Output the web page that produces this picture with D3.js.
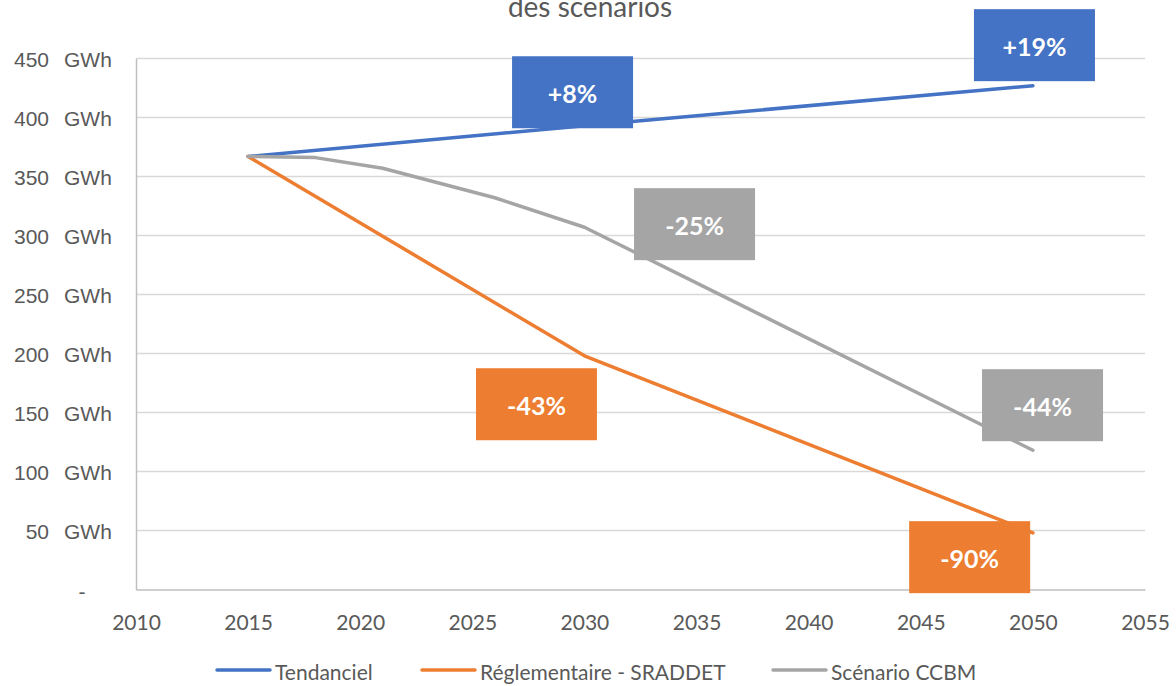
<!DOCTYPE html>
<html>
<head>
<meta charset="utf-8">
<script src="https://cdn.jsdelivr.net/npm/d3@7"></script>
<style>
  html, body { margin: 0; padding: 0; background: #fff; }
  svg { display: block; font-family: Lato, "Open Sans", sans-serif; }
</style>
</head>
<body>
<svg id="chart" width="1176" height="686"></svg>
<script>
// ---- data ----
const titleText = "des scenarios";
const seriesNames = ["Tendanciel", "Réglementaire - SRADDET", "Scénario CCBM"];
const tendancielYears = [2015, 2030, 2050];
const tendancielValues = [367, 393, 427];
const reglementaireYears = [2015, 2030, 2050];
const reglementaireValues = [367, 198, 48];
const ccbmYears = [2015, 2018, 2021, 2026, 2030, 2050];
const ccbmValues = [367, 366, 357, 332, 307, 118];
const xTicks = [2010, 2015, 2020, 2025, 2030, 2035, 2040, 2045, 2050, 2055];
const yTicks = [0, 50, 100, 150, 200, 250, 300, 350, 400, 450];
const yUnit = "GWh";
// annotation boxes: text, series index, anchor (year, GWh)
const labelTexts = ["+8%", "+19%", "-43%", "-90%", "-25%", "-44%"];
const labelSeries = [0, 0, 1, 1, 2, 2];
const labelYears = [2029.47, 2050.07, 2027.86, 2047.18, 2034.91, 2050.43];
const labelValues = [421.4, 461.3, 157.0, 27.4, 309.6, 156.2];

// ---- style ----
const colors = ["#4472C4", "#ED7D31", "#A5A5A5"];
const textColor = "#595959";
const W = 1176, H = 686;
const plot = { left: 136, right: 1145, top: 58.5, bottom: 589.5 };

const svg = d3.select("#chart");
const x = d3.scaleLinear().domain([2010, 2055]).range([plot.left, plot.right]);
const y = d3.scaleLinear().domain([0, 450]).range([plot.bottom, plot.top]);

// title (first line lies above the visible area)
svg.append("text")
  .attr("x", 590).attr("y", 17)
  .attr("text-anchor", "middle")
  .attr("fill", textColor)
  .attr("font-size", 28)
  .text(titleText);

// gridlines
svg.append("g")
  .selectAll("line")
  .data(yTicks.filter(d => d > 0))
  .join("line")
  .attr("x1", plot.left).attr("x2", plot.right)
  .attr("y1", d => y(d)).attr("y2", d => y(d))
  .attr("stroke", "#d9d9d9").attr("stroke-width", 1.5);

// y axis
const yAxis = svg.append("g")
  .attr("transform", `translate(${plot.left},0)`)
  .call(d3.axisLeft(y).tickValues(yTicks).tickSize(0).tickFormat(""));
yAxis.select(".domain").attr("stroke", "#bfbfbf").attr("stroke-width", 1.5);
yAxis.selectAll(".tick text").remove();
yAxis.selectAll(".tick").each(function(d) {
  const g = d3.select(this);
  if (d === 0) {
    g.append("text").attr("x", 82 - plot.left).attr("y", 1)
      .attr("text-anchor", "middle").attr("dominant-baseline", "central")
      .attr("fill", textColor).attr("font-size", 21).text("-");
  } else {
    g.append("text").attr("x", 49 - plot.left).attr("y", 0)
      .attr("text-anchor", "end").attr("dominant-baseline", "central")
      .attr("fill", textColor).attr("font-size", 21).text(d);
    g.append("text").attr("x", 64 - plot.left).attr("y", 0)
      .attr("text-anchor", "start").attr("dominant-baseline", "central")
      .attr("fill", textColor).attr("font-size", 21).text(yUnit);
  }
});

// x axis
const xAxis = svg.append("g")
  .attr("transform", `translate(0,${plot.bottom})`)
  .call(d3.axisBottom(x).tickValues(xTicks).tickSize(0).tickFormat(d => String(d)));
xAxis.select(".domain").attr("stroke", "#bfbfbf").attr("stroke-width", 1.5);
xAxis.selectAll(".tick text")
  .attr("y", 32).attr("dy", null)
  .attr("dominant-baseline", "central")
  .attr("fill", textColor).attr("font-size", 21).attr("font-family", "Lato, sans-serif");

// lines
const series = [
  { years: tendancielYears, values: tendancielValues },
  { years: reglementaireYears, values: reglementaireValues },
  { years: ccbmYears, values: ccbmValues }
];
const line = d3.line().x(d => x(d[0])).y(d => y(d[1]));
// draw order: gray under orange under blue? Excel draws in series order
series.forEach((s, i) => {
  svg.append("path")
    .datum(s.years.map((yr, k) => [yr, s.values[k]]))
    .attr("d", line)
    .attr("fill", "none")
    .attr("stroke", colors[i])
    .attr("stroke-width", 3.5)
    .attr("stroke-linejoin", "round")
    .attr("stroke-linecap", "round");
});

// label boxes
const boxW = 121, boxH = 72;
const lab = svg.append("g").selectAll("g")
  .data(labelTexts.map((t, i) => ({ t, s: labelSeries[i], yr: labelYears[i], v: labelValues[i] })))
  .join("g")
  .attr("transform", d => `translate(${x(d.yr)},${y(d.v)})`);
lab.append("rect")
  .attr("x", -boxW / 2).attr("y", -boxH / 2)
  .attr("width", boxW).attr("height", boxH)
  .attr("fill", d => colors[d.s]);
lab.append("text")
  .attr("text-anchor", "middle").attr("dominant-baseline", "central")
  .attr("y", 1)
  .attr("fill", "#fff").attr("font-weight", "bold").attr("font-size", 25)
  .text(d => d.t);

// legend
const legendY = 670;
const legendItems = [
  { lx: 217, tx: 275 },
  { lx: 422, tx: 480 },
  { lx: 773, tx: 831 }
];
const lg = svg.append("g").selectAll("g").data(seriesNames).join("g");
lg.append("line")
  .attr("x1", (d, i) => legendItems[i].lx).attr("x2", (d, i) => legendItems[i].lx + 53)
  .attr("y1", legendY).attr("y2", legendY)
  .attr("stroke", (d, i) => colors[i]).attr("stroke-width", 3.5)
  .attr("stroke-linecap", "round");
lg.append("text")
  .attr("x", (d, i) => legendItems[i].tx).attr("y", legendY + 1)
  .attr("dominant-baseline", "central")
  .attr("fill", textColor).attr("font-size", 21)
  .text(d => d);
</script>
</body>
</html>
